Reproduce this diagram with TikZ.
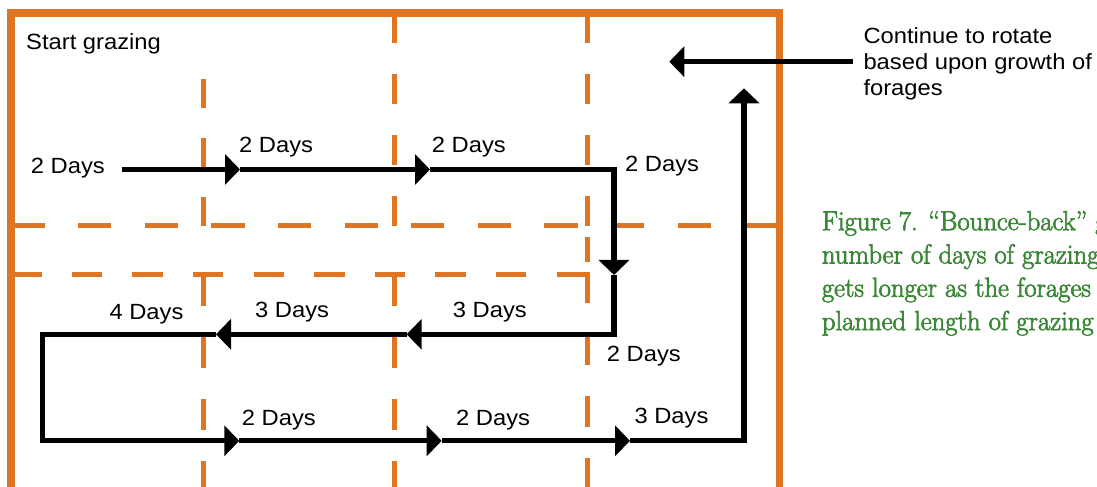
\documentclass[tikz,border=0pt]{standalone}
\usepackage{fontspec}
\setmainfont{Liberation Sans}[FakeStretch=1.08]
\newfontfamily\capfont{Latin Modern Roman}[FakeBold=2.5,FakeStretch=0.97]
\usetikzlibrary{arrows.meta}
\definecolor{paddock}{RGB}{221,117,34}
\definecolor{capgreen}{RGB}{60,135,55}
\begin{document}
\begin{tikzpicture}[>={Triangle[length=15bp,width=30bp]},line join=miter,
  fence/.style={paddock,line width=7.7bp},
  wire/.style={paddock,line width=5bp},
  flow/.style={black,line width=5.3bp,->},
  days/.style={anchor=base west,inner sep=0pt,font=\fontsize{22bp}{26bp}\selectfont}]
\useasboundingbox (0bp,0bp) rectangle (1097bp,487bp);
\clip (0bp,0bp) rectangle (1097bp,487bp);
%%
\draw [fence] (11.2bp,-10bp) -- (11.2bp,473.7bp) -- (779.5bp,473.7bp) -- (779.5bp,-10bp);
  \draw [wire,dash pattern=on 33.33bp off 33.33bp] (11.2bp,261.2bp) -- (779.5bp,261.2bp);
  \draw [wire,dash pattern=on 30.3bp off 30.3bp] (11.2bp,212bp) -- (589.8bp,212bp);
  \draw [wire,dash pattern=on 29bp off 30bp] (203.3bp,261.2bp) -- (203.3bp,408bp);
  \draw [wire,dash pattern=on 30bp off 31bp] (394.5bp,261.2bp) -- (394.5bp,474bp);
  \draw [wire,dash pattern=on 30bp off 31bp] (587.3bp,261.2bp) -- (587.3bp,474bp);
  \draw [wire] (587.3bp,250bp) -- (587.3bp,225bp);
  \draw [wire,dash pattern=on 31bp off 31bp] (203.3bp,212bp) -- (203.3bp,-10bp);
  \draw [wire,dash pattern=on 31bp off 31bp] (394.5bp,212bp) -- (394.5bp,-10bp);
  \draw [wire,dash pattern=on 31bp off 31bp] (587.3bp,214.5bp) -- (587.3bp,-10bp);
%%
\coordinate (pt_s) at (122.3bp,317.5bp);
  \coordinate (pt_1) at (240bp,317.5bp);
  \coordinate (pt_2) at (430bp,317.5bp);
  \coordinate (turn_1) at (614bp,317.5bp);
  \coordinate (pt_3) at (614bp,212bp);
  \coordinate (turn_2) at (614bp,152.7bp);
  \coordinate (pt_4) at (406.7bp,152.7bp);
  \coordinate (pt_5) at (216bp,152.7bp);
  \coordinate (turn_3) at (42.5bp,152.7bp);
  \coordinate (turn_4) at (42.5bp,46.2bp);
  \coordinate (pt_6) at (239.3bp,46.2bp);
  \coordinate (pt_7) at (441.7bp,46.2bp);
  \coordinate (pt_8) at (630bp,46.2bp);
  \coordinate (turn_5) at (744bp,46.2bp);
  \coordinate (pt_9) at (744bp,398.7bp);
  \coordinate (pt_r) at (852.7bp,425.3bp);
  \coordinate (pt_10) at (669.3bp,425.3bp);
%%
\node (node_start) at (26bp,437.7bp) [days] {Start grazing};
  \node (node_0) at (30.7bp,313.7bp) [days] {2 Days};
  \node (node_1) at (239bp,334.3bp) [days] {2 Days};
  \node (node_2) at (431.7bp,334.3bp) [days] {2 Days};
  \node (node_3) at (625bp,315.3bp) [days] {2 Days};
  \node (node_4) at (109.3bp,167.7bp) [days] {4 Days};
  \node (node_5) at (255bp,169.3bp) [days] {3 Days};
  \node (node_6) at (452.7bp,169.3bp) [days] {3 Days};
  \node (node_7) at (606.7bp,125.3bp) [days] {2 Days};
  \node (node_8) at (241.7bp,61.3bp) [days] {2 Days};
  \node (node_9) at (456bp,61.3bp) [days] {2 Days};
  \node (node_10) at (634.3bp,63.7bp) [days] {3 Days};
  \node (node_rot) at (863.3bp,459.7bp) [days,anchor=north west,align=left] {Continue to rotate\\based upon growth of\\forages};
  \node (node_cap) at (821.7bp,276.1bp) [anchor=north west,inner sep=0pt,align=left,capgreen,font=\capfont\fontsize{27.5bp}{33.3bp}\selectfont] {Figure 7. “Bounce-back” g\\number of days of grazing\\gets longer as the forages r\\planned length of grazing};
%%
\draw [flow] (pt_s) -- (pt_1);
  \draw [flow] (pt_1) -- (pt_2);
  \draw [flow] (pt_2) -- (turn_1) -- (pt_3);
  \draw [flow] (pt_3) -- (turn_2) -- (pt_4);
  \draw [flow] (pt_4) -- (pt_5);
  \draw [flow] (pt_5) -- (turn_3) -- (turn_4) -- (pt_6);
  \draw [flow] (pt_6) -- (pt_7);
  \draw [flow] (pt_7) -- (pt_8);
  \draw [flow] (pt_8) -- (turn_5) -- (pt_9);
  \draw [flow] (pt_r) -- (pt_10);
%
\end{tikzpicture}
\end{document}
